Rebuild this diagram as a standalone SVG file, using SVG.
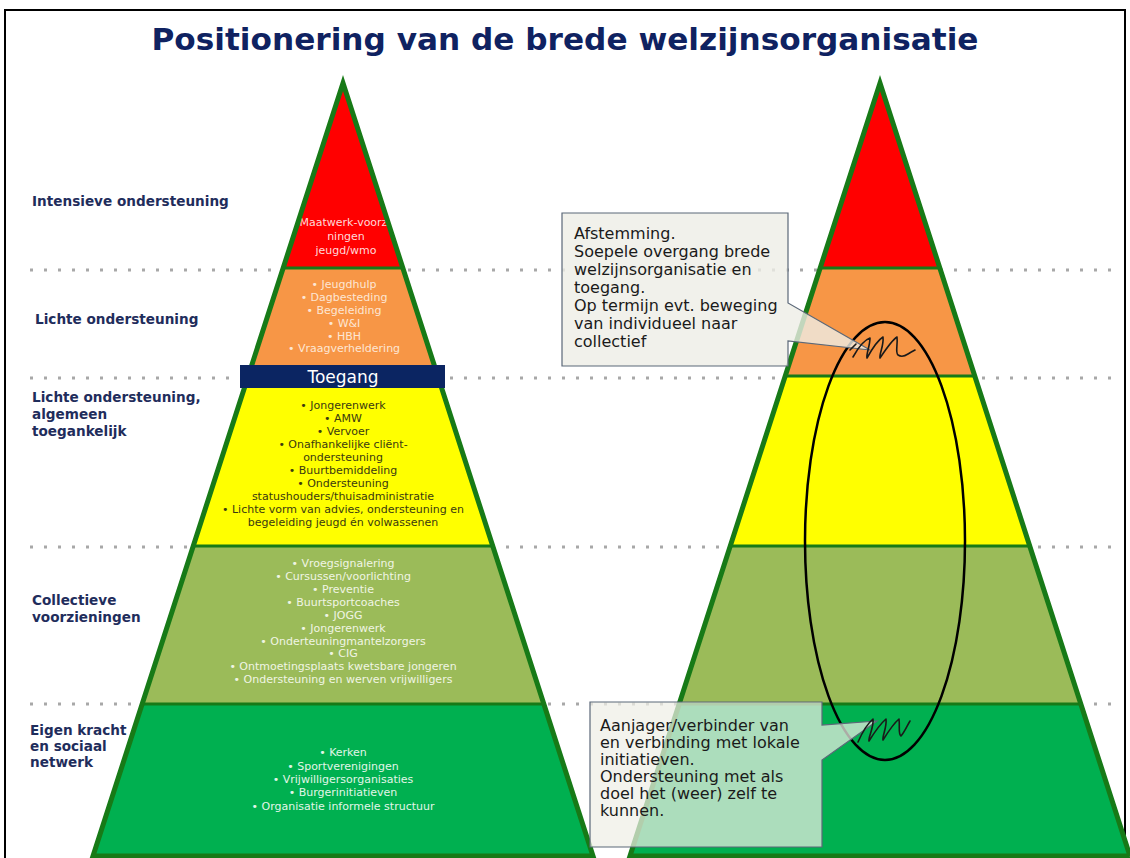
<svg xmlns="http://www.w3.org/2000/svg" width="1130" height="858" viewBox="0 0 1130 858">
<style>
.title{font-family:"DejaVu Sans",Verdana,sans-serif;font-weight:bold;font-size:31px;fill:#0f2261}
.lbl{font-family:"DejaVu Sans",Verdana,sans-serif;font-weight:bold;font-size:13.6px;fill:#1f2d5c}
.b{font-family:"DejaVu Sans",Verdana,sans-serif;font-size:11px;text-anchor:middle}
.dots{stroke:#a8a8a8;stroke-width:3;stroke-dasharray:3 11;fill:none}
.outline{fill:none;stroke:#177a17;stroke-width:5;stroke-linejoin:miter}
.sep{stroke:#177a17;stroke-width:3}
.call{font-family:"DejaVu Sans",Verdana,sans-serif;font-size:16px;fill:#1a1a1a}
.cbox{fill:#eeeee6;fill-opacity:0.8;stroke:#5b6878;stroke-width:1.2}
.scrib{fill:none;stroke:#1a1a1a;stroke-width:1.6;stroke-linecap:round;stroke-linejoin:round}
</style>
<rect x="5" y="10" width="1120" height="860" fill="#fff" stroke="#000" stroke-width="2"/>
<g id="title"><text class="title" x="565" y="50" text-anchor="middle" textLength="827" lengthAdjust="spacingAndGlyphs">Positionering van de brede welzijnsorganisatie</text></g>
<g id="gridlines">
<line class="dots" x1="30" y1="270" x2="1112" y2="270"/>
<line class="dots" x1="30" y1="378" x2="1112" y2="378"/>
<line class="dots" x1="30" y1="547" x2="1112" y2="547"/>
<line class="dots" x1="30" y1="704" x2="1112" y2="704"/>
</g>
<g id="labels">
<text class="lbl" x="32" y="206">Intensieve ondersteuning</text>
<text class="lbl" x="35" y="324">Lichte ondersteuning</text>
<text class="lbl" x="32" y="402">Lichte ondersteuning,</text>
<text class="lbl" x="32" y="419">algemeen</text>
<text class="lbl" x="32" y="436">toegankelijk</text>
<text class="lbl" x="32" y="605">Collectieve</text>
<text class="lbl" x="32" y="622">voorzieningen</text>
<text class="lbl" x="30" y="735">Eigen kracht</text>
<text class="lbl" x="30" y="751">en sociaal</text>
<text class="lbl" x="30" y="767">netwerk</text>
</g>
<g id="pyramid-left">
<polygon points="343,83 403,268 283,268" fill="#ff0000"/>
<polygon points="283,268 403,268 438,376 248,376" fill="#f79646"/>
<polygon points="248,376 438,376 493,546 193,546" fill="#ffff00"/>
<polygon points="193,546 493,546 544,704 142,704" fill="#9bbb59"/>
<polygon points="142,704 544,704 593,856 93,856" fill="#00b050"/>
<g fill="#ffd9d9">
<text class="b" x="345" y="226">Maatwerk-voorzi</text>
<text class="b" x="346" y="240">ningen</text>
<text class="b" x="346" y="254">jeugd/wmo</text>
</g>
<g fill="#fde6d4">
<text class="b" x="344" y="288">• Jeugdhulp</text>
<text class="b" x="344" y="301">• Dagbesteding</text>
<text class="b" x="344" y="314">• Begeleiding</text>
<text class="b" x="344" y="327">• W&amp;I</text>
<text class="b" x="344" y="340">• HBH</text>
<text class="b" x="344" y="352">• Vraagverheldering</text>
</g>
<g fill="#3a3a10">
<text class="b" x="343" y="409">• Jongerenwerk</text>
<text class="b" x="343" y="422">• AMW</text>
<text class="b" x="343" y="435">• Vervoer</text>
<text class="b" x="343" y="448">• Onafhankelijke cliënt-</text>
<text class="b" x="343" y="461">ondersteuning</text>
<text class="b" x="343" y="474">• Buurtbemiddeling</text>
<text class="b" x="343" y="487">• Ondersteuning</text>
<text class="b" x="343" y="500">statushouders/thuisadministratie</text>
<text class="b" x="343" y="513">• Lichte vorm van advies, ondersteuning en</text>
<text class="b" x="343" y="526">begeleiding jeugd én volwassenen</text>
</g>
<g fill="#f0f5e4">
<text class="b" x="343" y="567">• Vroegsignalering</text>
<text class="b" x="343" y="580">• Cursussen/voorlichting</text>
<text class="b" x="343" y="593">• Preventie</text>
<text class="b" x="343" y="606">• Buurtsportcoaches</text>
<text class="b" x="343" y="619">• JOGG</text>
<text class="b" x="343" y="632">• Jongerenwerk</text>
<text class="b" x="343" y="645">• Onderteuningmantelzorgers</text>
<text class="b" x="343" y="657">• CIG</text>
<text class="b" x="343" y="670">• Ontmoetingsplaats kwetsbare jongeren</text>
<text class="b" x="343" y="683">• Ondersteuning en werven vrijwilligers</text>
</g>
<g fill="#e2f6e8">
<text class="b" x="343" y="756">• Kerken</text>
<text class="b" x="343" y="770">• Sportverenigingen</text>
<text class="b" x="343" y="783">• Vrijwilligersorganisaties</text>
<text class="b" x="343" y="796">• Burgerinitiatieven</text>
<text class="b" x="343" y="810">• Organisatie informele structuur</text>
</g>
<line class="sep" x1="283" y1="268" x2="403" y2="268"/>
<line class="sep" x1="248" y1="376" x2="438" y2="376"/>
<line class="sep" x1="193" y1="546" x2="493" y2="546"/>
<line class="sep" x1="142" y1="704" x2="544" y2="704"/>
<polygon class="outline" points="343,83 593,856 93,856"/>
</g>
<g id="toegang">
<rect x="240" y="365" width="205" height="23" fill="#0b2562"/>
<text x="343" y="383" text-anchor="middle" font-family="DejaVu Sans, Verdana, sans-serif" font-size="17" fill="#ffffff">Toegang</text>
</g>
<g id="pyramid-right">
<polygon points="880,83 940,268 820,268" fill="#ff0000"/>
<polygon points="820,268 940,268 975,376 785,376" fill="#f79646"/>
<polygon points="785,376 975,376 1030,546 730,546" fill="#ffff00"/>
<polygon points="730,546 1030,546 1081,704 679,704" fill="#9bbb59"/>
<polygon points="679,704 1081,704 1130,856 630,856" fill="#00b050"/>
<line class="sep" x1="820" y1="268" x2="940" y2="268"/>
<line class="sep" x1="785" y1="376" x2="975" y2="376"/>
<line class="sep" x1="730" y1="546" x2="1030" y2="546"/>
<line class="sep" x1="679" y1="704" x2="1081" y2="704"/>
<polygon class="outline" points="880,83 1130,856 630,856"/>
</g>
<g id="ellipse">
<ellipse cx="885" cy="541" rx="80" ry="219" fill="none" stroke="#000" stroke-width="2.5"/>
</g>
<g id="callout-afstemming">
<path class="cbox" d="M562,213 H788 V303 L870,350 L788,341 V366 H562 Z"/>
<text class="call" x="574" y="239">Afstemming.</text>
<text class="call" x="574" y="257">Soepele overgang brede</text>
<text class="call" x="574" y="275">welzijnsorganisatie en</text>
<text class="call" x="574" y="293">toegang.</text>
<text class="call" x="574" y="311">Op termijn evt. beweging</text>
<text class="call" x="574" y="329">van individueel naar</text>
<text class="call" x="574" y="347">collectief</text>
</g>
<g id="callout-aanjager">
<path class="cbox" d="M590,702 H822 V725 L877,721 L822,760 V847 H590 Z" style="fill-opacity:0.72"/>
<text class="call" x="600" y="731">Aanjager/verbinder van</text>
<text class="call" x="600" y="748">en verbinding met lokale</text>
<text class="call" x="600" y="765">initiatieven.</text>
<text class="call" x="600" y="782">Ondersteuning met als</text>
<text class="call" x="600" y="799">doel het (weer) zelf te</text>
<text class="call" x="600" y="816">kunnen.</text>
</g>
<g id="connectors">
<path class="scrib" d="M850,350 L856,344 M853,357 C858,348 864,340 870,338 C870,346 866,354 867,358 C872,349 878,340 883,337 C884,346 879,354 880,358 C886,349 892,340 897,337 C898,345 895,352 898,355 C901,357 905,356 908,354 C911,352 913,351 915,350"/>
<path class="scrib" d="M858,742 C862,733 867,724 873,719 C874,728 868,737 869,741 C874,733 880,724 886,719 C887,728 882,736 883,740 C888,732 894,723 899,719 C900,727 898,734 901,736 C904,733 907,726 910,721"/>
</g>
</svg>
